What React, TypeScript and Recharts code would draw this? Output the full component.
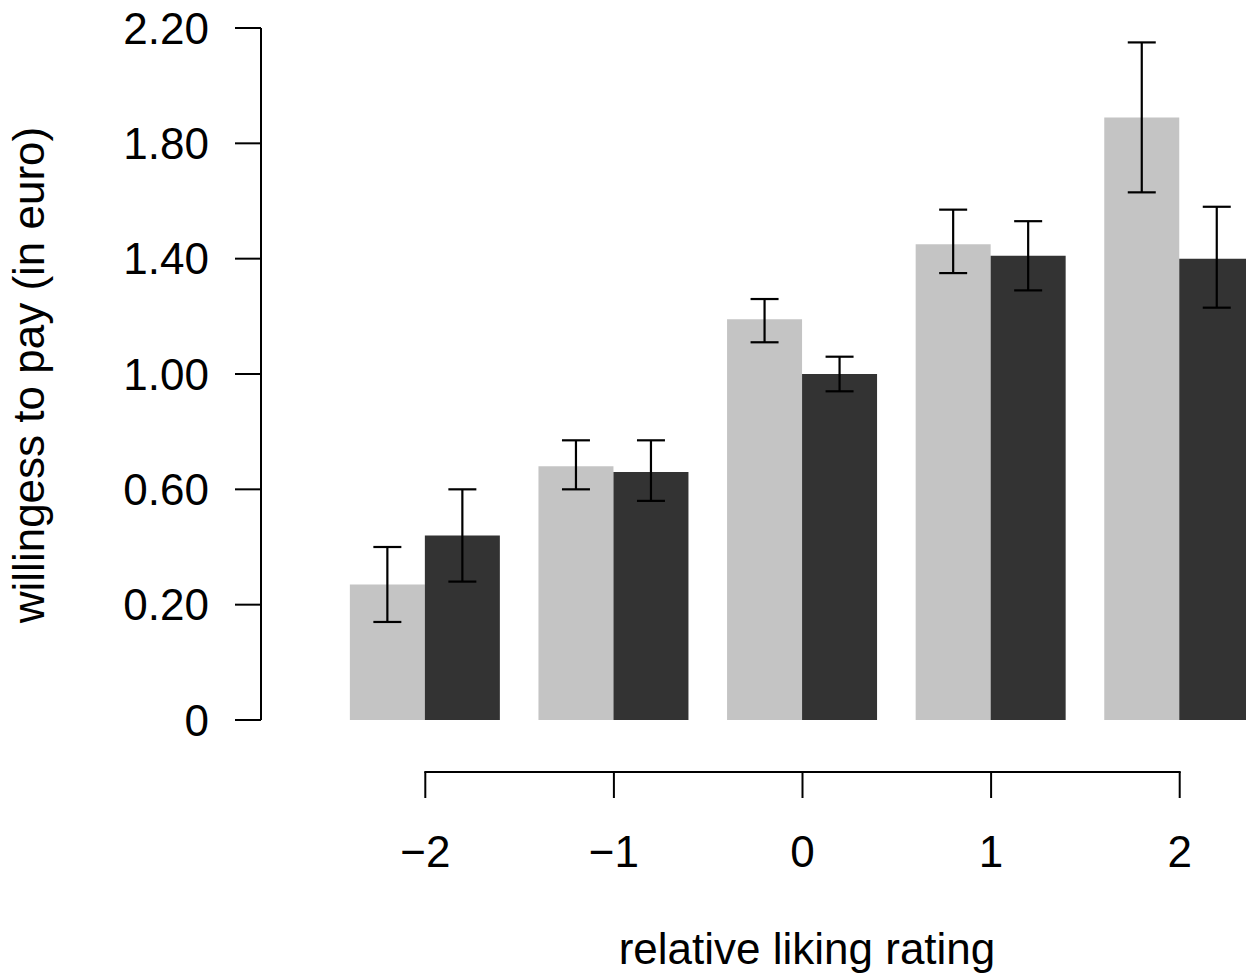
import { Bar, BarChart, ErrorBar, Label, XAxis, YAxis } from 'recharts'

// relative liking rating categories
const ratings = [-2, -1, 0, 1, 2]

// light bars (first condition): mean and error bar ends
const lightMean = [0.27, 0.68, 1.19, 1.45, 1.89]
const lightLow = [0.14, 0.6, 1.11, 1.35, 1.63]
const lightHigh = [0.4, 0.77, 1.26, 1.57, 2.15]

// dark bars (second condition)
const darkMean = [0.44, 0.66, 1.0, 1.41, 1.4]
const darkLow = [0.28, 0.56, 0.94, 1.29, 1.23]
const darkHigh = [0.6, 0.77, 1.06, 1.53, 1.58]

// y tick labels as printed; the bottom "0" sits where -0.2 would be on the linear scale
const yTickValues = [-0.2, 0.2, 0.6, 1.0, 1.4, 1.8, 2.2]
const AXIS_FLOOR = -0.2

const FONT = '"Liberation Sans", Arial, Helvetica, sans-serif'
const FONT_SIZE = 44
const LIGHT = '#c4c4c4'
const DARK = '#333333'

const data = ratings.map((rating, i) => ({
  rating,
  light: lightMean[i],
  lightLow: lightLow[i],
  lightHigh: lightHigh[i],
  dark: darkMean[i],
  darkLow: darkLow[i],
  darkHigh: darkHigh[i]
}))

type Row = (typeof data)[number]

const formatRating = (v: number) => (v < 0 ? `\u2212${Math.abs(v)}` : String(v))
const formatY = (v: number) => (Math.abs(v) < 1e-9 ? '0' : (v + AXIS_FLOOR).toFixed(2))

function RatingTick(props: any) {
  const { x, y, payload, index } = props
  const half = payload?.offset || 94
  const lineY = y + 52
  const left = index === 0 ? x : x - half
  const right = index === ratings.length - 1 ? x : x + half
  return (
    <g>
      <line x1={left} x2={right} y1={lineY} y2={lineY} stroke="#000" strokeWidth={2} strokeLinecap="square" />
      <line x1={x} x2={x} y1={lineY} y2={lineY + 26} stroke="#000" strokeWidth={2} />
      <text x={x} y={y + 147} textAnchor="middle" fontSize={FONT_SIZE} fontFamily={FONT} fill="#000">
        {formatRating(payload.value)}
      </text>
    </g>
  )
}

export default function App() {
  return (
    <div
      style={{
        position: 'absolute',
        left: 0,
        top: 0,
        width: 1246,
        height: 978,
        overflow: 'hidden',
        background: '#fff'
      }}
    >
      <BarChart
        width={1274}
        height={978}
        data={data}
        margin={{ top: 28, right: 0, bottom: 0, left: 0 }}
        barCategoryGap="10%"
        barGap={0}
      >
        <XAxis
          dataKey="rating"
          type="category"
          height={258}
          padding={{ left: 70, right: 0 }}
          axisLine={false}
          tickLine={false}
          tickSize={0}
          tickMargin={0}
          interval={0}
          tick={<RatingTick />}
        >
          <Label
            content={() => (
              <text x={807} y={964} textAnchor="middle" fontSize={FONT_SIZE} fontFamily={FONT} fill="#000">
                relative liking rating
              </text>
            )}
          />
        </XAxis>
        <YAxis
          type="number"
          width={261}
          domain={[0, 2.4]}
          ticks={yTickValues.map((t) => t - AXIS_FLOOR)}
          tickFormatter={formatY}
          allowDataOverflow
          axisLine={{ stroke: '#000', strokeWidth: 2 }}
          tickLine={{ stroke: '#000', strokeWidth: 2 }}
          tickSize={26}
          tickMargin={26}
          tick={{ fill: '#000', fontSize: FONT_SIZE, fontFamily: FONT }}
        >
          <Label
            content={() => (
              <text
                x={44}
                y={375}
                transform="rotate(-90 44 375)"
                textAnchor="middle"
                fontSize={FONT_SIZE}
                fontFamily={FONT}
                fill="#000"
              >
                willingess to pay (in euro)
              </text>
            )}
          />
        </YAxis>
        <Bar dataKey={(d: Row) => d.light - AXIS_FLOOR} fill={LIGHT} isAnimationActive={false}>
          <ErrorBar
            dataKey={(d: Row) => [d.light - d.lightLow, d.lightHigh - d.light]}
            width={14}
            stroke="#000"
            strokeWidth={2.2}
            isAnimationActive={false}
          />
        </Bar>
        <Bar dataKey={(d: Row) => d.dark - AXIS_FLOOR} fill={DARK} isAnimationActive={false}>
          <ErrorBar
            dataKey={(d: Row) => [d.dark - d.darkLow, d.darkHigh - d.dark]}
            width={14}
            stroke="#000"
            strokeWidth={2.2}
            isAnimationActive={false}
          />
        </Bar>
      </BarChart>
    </div>
  )
}
